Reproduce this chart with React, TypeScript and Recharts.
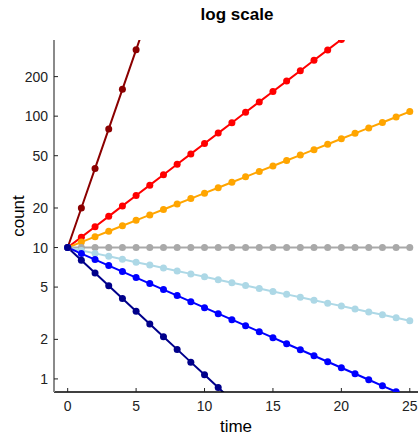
import React from 'react';
import { LineChart, Line, XAxis, YAxis } from 'recharts';

const times = [0, 1, 2, 3, 4, 5, 6, 7, 8, 9, 10, 11, 12, 13, 14, 15, 16, 17, 18, 19, 20, 21, 22, 23, 24, 25];

const darkRed: (number | null)[] = [10, 20, 40, 80, 160, 320, 640, null, null, null, null, null, null, null, null, null, null, null, null, null, null, null, null, null, null, null];
const red: (number | null)[] = [10, 12, 14.4, 17.28, 20.74, 24.88, 29.86, 35.83, 43.0, 51.6, 61.92, 74.3, 89.16, 106.99, 128.39, 154.07, 184.88, 221.86, 266.23, 319.48, 383.38, 460.05, null, null, null, null];
const orange: (number | null)[] = [10, 11, 12.1, 13.31, 14.64, 16.11, 17.72, 19.49, 21.44, 23.58, 25.94, 28.53, 31.38, 34.52, 37.97, 41.77, 45.95, 50.54, 55.6, 61.16, 67.27, 74.0, 81.4, 89.54, 98.5, 108.35];
const gray: (number | null)[] = [10, 10, 10, 10, 10, 10, 10, 10, 10, 10, 10, 10, 10, 10, 10, 10, 10, 10, 10, 10, 10, 10, 10, 10, 10, 10];
const lightBlue: (number | null)[] = [10, 9.5, 9.025, 8.574, 8.145, 7.738, 7.351, 6.983, 6.634, 6.302, 5.987, 5.688, 5.404, 5.133, 4.877, 4.633, 4.401, 4.181, 3.972, 3.774, 3.585, 3.406, 3.235, 3.074, 2.92, 2.774];
const blue: (number | null)[] = [10, 9, 8.1, 7.29, 6.561, 5.905, 5.314, 4.783, 4.305, 3.874, 3.487, 3.138, 2.824, 2.542, 2.288, 2.059, 1.853, 1.668, 1.501, 1.351, 1.216, 1.094, 0.985, 0.886, 0.798, 0.718];
const navy: (number | null)[] = [10, 8, 6.4, 5.12, 4.096, 3.277, 2.621, 2.097, 1.678, 1.342, 1.074, 0.859, 0.687, null, null, null, null, null, null, null, null, null, null, null, null, null];

const xTicks = [0, 5, 10, 15, 20, 25];
const yTicks = [1, 2, 5, 10, 20, 50, 100, 200];

const seriesDefs = [
  { key: 'darkRed', values: darkRed, color: '#8B0000' },
  { key: 'red', values: red, color: '#FF0000' },
  { key: 'orange', values: orange, color: '#FFA500' },
  { key: 'gray', values: gray, color: '#A9A9A9' },
  { key: 'lightBlue', values: lightBlue, color: '#ADD8E6' },
  { key: 'blue', values: blue, color: '#0000FF' },
  { key: 'navy', values: navy, color: '#00008B' },
];

const data = times.map((t, i) => {
  const row: Record<string, number | null> = { t };
  seriesDefs.forEach((s) => {
    row[s.key] = s.values[i];
  });
  return row;
});

const FONT = '"Liberation Sans", Arial, sans-serif';

const XTick = (props: any) => {
  const { x, y, payload } = props;
  return (
    <g>
      <line x1={x} x2={x} y1={y} y2={y - 4} stroke="#222" strokeWidth={1} />
      <text x={x} y={y + 19} textAnchor="middle" fontSize={14} fontFamily={FONT} fill="#222">
        {payload.value}
      </text>
    </g>
  );
};

const YTick = (props: any) => {
  const { x, y, payload } = props;
  return (
    <g>
      <line x1={x} x2={x + 4} y1={y} y2={y} stroke="#222" strokeWidth={1} />
      <text x={x - 6} y={y + 5} textAnchor="end" fontSize={14} fontFamily={FONT} fill="#222">
        {payload.value}
      </text>
    </g>
  );
};

export default function App() {
  return (
    <div style={{ position: 'absolute', left: 0, top: 0, width: 418, height: 440, background: '#fff' }}>
      <LineChart width={418} height={440} data={data} margin={{ top: 40, right: 0, left: 0, bottom: 0 }}>
        <XAxis
          dataKey="t"
          type="number"
          domain={[-1, 25.6]}
          allowDataOverflow
          ticks={xTicks}
          height={48}
          tickSize={0}
          tickMargin={0}
          tickLine={false}
          tick={<XTick />}
          axisLine={{ stroke: '#000', strokeWidth: 1.5 }}
        />
        <YAxis
          scale="log"
          type="number"
          domain={[0.795, 380]}
          allowDataOverflow
          ticks={yTicks}
          width={54}
          tickSize={0}
          tickMargin={0}
          tickLine={false}
          tick={<YTick />}
          axisLine={{ stroke: '#8a8a8a', strokeWidth: 2 }}
        />
        {seriesDefs.map((s) => (
          <Line
            key={s.key}
            dataKey={s.key}
            type="linear"
            stroke={s.color}
            strokeWidth={2}
            dot={{ r: 3.5, fill: s.color, stroke: s.color, strokeWidth: 0 }}
            activeDot={false}
            isAnimationActive={false}
          />
        ))}
      </LineChart>
      <svg width={418} height={440} style={{ position: 'absolute', left: 0, top: 0, pointerEvents: 'none' }}>
        <text x={237} y={20} textAnchor="middle" fontSize={17} fontWeight="bold" fontFamily={FONT} fill="#000">
          log scale
        </text>
        <text x={236} y={432} textAnchor="middle" fontSize={17} fontFamily={FONT} fill="#000">
          time
        </text>
        <text
          x={24}
          y={216}
          textAnchor="middle"
          fontSize={17}
          fontFamily={FONT}
          fill="#000"
          transform="rotate(-90 24 216)"
        >
          count
        </text>
      </svg>
    </div>
  );
}
